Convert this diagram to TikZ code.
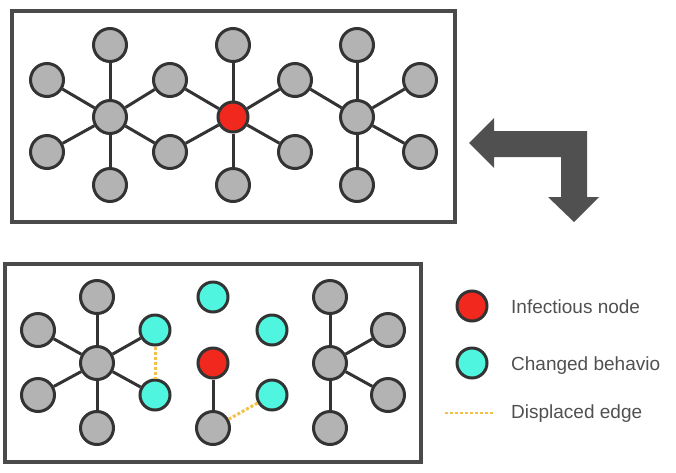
\documentclass[tikz,border=0pt]{standalone}
\usepackage{fontspec}
\setmainfont{Liberation Sans}
\definecolor{nodegray}{HTML}{B3B3B3}
\definecolor{linegray}{HTML}{333333}
\definecolor{boxgray}{HTML}{4A4A4A}
\definecolor{infred}{HTML}{F0281E}
\definecolor{chcyan}{HTML}{50F5E0}
\definecolor{dispor}{HTML}{F5C04A}
\definecolor{arrgray}{HTML}{505050}
\begin{document}
\begin{tikzpicture}[x=1pt,y=-1pt,
    nd/.style={circle,draw=linegray,line width=3pt,fill=nodegray,minimum size=33pt,inner sep=0pt},
    inf/.style={nd,fill=infred,minimum size=30pt},
    chg/.style={nd,fill=chcyan,minimum size=30pt},
    edge/.style={linegray,line width=3pt},
    disp/.style={dispor,line width=3pt,dash pattern=on 3pt off 2pt},
    box/.style={boxgray,line width=3.5pt},
    lbl/.style={anchor=base west,text=arrgray,font=\fontsize{19}{22}\selectfont,inner sep=0pt}]
    \useasboundingbox (0,0) rectangle (676,472);
    % network before
    \draw[box] (12,11) rectangle (455,222);
    \node[nd] (h1) at (110,117) {};
    \node[nd] (h1t) at (110,45) {};
    \node[nd] (h1b) at (110,185) {};
    \node[nd] (h1ul) at (47,80) {};
    \node[nd] (h1ll) at (47,152) {};
    \node[nd] (m1u) at (170,80) {};
    \node[nd] (m1l) at (170,152) {};
    \node[inf] (r) at (233,117) {};
    \node[nd] (rt) at (233,45) {};
    \node[nd] (rb) at (233,185) {};
    \node[nd] (m2u) at (295,80) {};
    \node[nd] (m2l) at (295,152) {};
    \node[nd] (h3) at (357,117) {};
    \node[nd] (h3t) at (357,45) {};
    \node[nd] (h3b) at (357,185) {};
    \node[nd] (h3ur) at (420,80) {};
    \node[nd] (h3lr) at (420,152) {};
    \foreach \a/\b in {h1/h1t,h1/h1b,h1/h1ul,h1/h1ll,h1/m1u,h1/m1l,
        r/m1u,r/m1l,r/rt,r/rb,r/m2u,r/m2l,
        h3/m2u,h3/h3t,h3/h3b,h3/h3ur,h3/h3lr}
        \draw[edge] (\a) -- (\b);
    % bent arrow
    \fill[arrgray] (469,143) -- (494,118) -- (494,131) -- (587,131) -- (587,197)
        -- (599,197) -- (574,222) -- (548,197) -- (561,197) -- (561,157)
        -- (494,157) -- (494,168) -- cycle;
    % network after
    \draw[box] (5,264) rectangle (421,462);
    \node[nd] (g1) at (97,363) {};
    \node[nd] (g1t) at (97,297) {};
    \node[nd] (g1b) at (97,428) {};
    \node[nd] (g1ul) at (38,330) {};
    \node[nd] (g1ll) at (38,395) {};
    \node[chg] (c1u) at (155,330) {};
    \node[chg] (c1l) at (155,395) {};
    \node[chg] (ct) at (213,297) {};
    \node[chg] (cu) at (272,330) {};
    \node[inf] (s) at (213,363) {};
    \node[chg] (cl) at (272,395) {};
    \node[nd] (sb) at (213,428) {};
    \node[nd] (g3) at (330,363) {};
    \node[nd] (g3t) at (330,297) {};
    \node[nd] (g3b) at (330,428) {};
    \node[nd] (g3ur) at (388,330) {};
    \node[nd] (g3lr) at (388,395) {};
    \foreach \a/\b in {g1/g1t,g1/g1b,g1/g1ul,g1/g1ll,g1/c1u,g1/c1l,
        s/sb,g3/g3t,g3/g3b,g3/g3ur,g3/g3lr}
        \draw[edge] (\a) -- (\b);
    \draw[disp] (c1u) -- (c1l);
    \draw[disp] (sb) -- (cl);
    % legend
    \node[inf] (kinf) at (472,306) {};
    \node[chg] (kchg) at (472,363) {};
    \coordinate (kd1) at (445,413);
    \coordinate (kd2) at (493,413);
    \draw[disp,line width=2.5pt] (kd1) -- (kd2);
    \node[lbl] (tinf) at (511,313) {Infectious node};
    \node[lbl] (tchg) at (511,370) {Changed behavio};
    \node[lbl] (tdisp) at (511,418) {Displaced edge};
\end{tikzpicture}
\end{document}
